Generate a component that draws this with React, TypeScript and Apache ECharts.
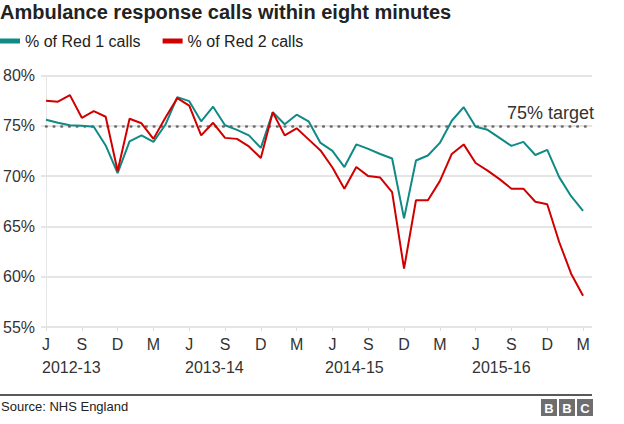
import React, { useEffect, useRef } from "react";
import * as echarts from "echarts";

const tickLabels = ["J", "S", "D", "M", "J", "S", "D", "M", "J", "S", "D", "M", "J", "S", "D", "M"];
const yearLabels = ["2012-13", "2013-14", "2014-15", "2015-16"];
const seriesNames = ["% of Red 1 calls", "% of Red 2 calls"];

const red1 = [
  75.6, 75.3, 75.05, 75.0, 74.9, 73.05, 70.3, 73.45, 74.05, 73.4, 75.1, 77.85,
  77.45, 75.45, 76.9, 75.05, 74.6, 74.05, 72.8, 76.35, 75.15, 76.1, 75.45, 73.3,
  72.5, 70.9, 73.15, 72.7, 72.2, 71.75, 65.8, 71.55, 72.05, 73.3, 75.5, 76.85,
  74.9, 74.6, 73.8, 73.0, 73.4, 72.1, 72.6, 69.9, 68.0, 66.55,
];
const red2 = [
  77.5, 77.4, 78.05, 75.8, 76.45, 75.9, 70.5, 75.7, 75.25, 73.7, 75.8, 77.75,
  77.0, 74.05, 75.3, 73.8, 73.7, 72.95, 71.8, 76.35, 74.05, 74.75, 73.65, 72.55,
  70.85, 68.75, 70.9, 70.0, 69.85, 68.4, 60.8, 67.6, 67.6, 69.5, 72.2, 73.15,
  71.3, 70.55, 69.7, 68.75, 68.75, 67.45, 67.2, 63.45, 60.3, 58.1,
];
const target = 75;
const targetLabel = "75% target";

const FONT = "'Liberation Sans', Arial, Helvetica, sans-serif";
const TEAL = "#0f8a84";
const RED = "#d00000";
const TEXT = "#333333";
const GRID = "#dddddd";

export default function App() {
  const ref = useRef<HTMLDivElement>(null);
  useEffect(() => {
    if (!ref.current) return;
    const chart = echarts.init(ref.current, undefined, { renderer: "svg" });
    const tickValues = tickLabels.map((_, i) => i * 3);
    const yearX = [42, 185, 325, 472];
    chart.setOption({
      animation: false,
      textStyle: { fontFamily: FONT },
      title: {
        text: "Ambulance response calls within eight minutes",
        left: 0,
        top: 2,
        padding: 0,
        textStyle: { fontSize: 20, fontWeight: "bold", color: "#222", fontFamily: FONT },
      },
      legend: {
        left: 0,
        top: 33,
        padding: 0,
        icon: "rect",
        itemWidth: 20,
        itemHeight: 5,
        itemGap: 22,
        textStyle: { fontSize: 16, color: "#222", fontFamily: FONT },
        data: seriesNames,
      },
      grid: { left: 42, right: 32, top: 75.5, bottom: 97, containLabel: false },
      xAxis: {
        type: "value",
        min: 0,
        max: 45.75,
        interval: 3,
        splitLine: { show: false },
        axisLine: { show: false },
        axisTick: {
          show: true,
          length: 4,
          customValues: tickValues,
          lineStyle: { color: GRID, width: 1 },
        },
        axisLabel: {
          customValues: tickValues,
          formatter: (v: number) => tickLabels[Math.round(v / 3)] ?? "",
          fontSize: 16,
          color: TEXT,
          margin: 9,
          fontFamily: FONT,
        },
      },
      yAxis: {
        type: "value",
        min: 55,
        max: 80,
        interval: 5,
        axisLine: { show: true, lineStyle: { color: "#e6e6e6", width: 1 } },
        axisTick: { show: true, length: 5, lineStyle: { color: GRID, width: 1.5 } },
        splitLine: { show: true, lineStyle: { color: GRID, width: 1.5 } },
        axisLabel: {
          formatter: "{value}%",
          fontSize: 16,
          color: TEXT,
          margin: 11,
          fontFamily: FONT,
        },
      },
      series: [
        {
          name: seriesNames[0],
          type: "line",
          data: red1.map((v, i) => [i, v]),
          symbol: "none",
          lineStyle: { color: TEAL, width: 2 },
          itemStyle: { color: TEAL },
          z: 3,
          markLine: {
            silent: true,
            symbol: "none",
            z: 1,
            lineStyle: { color: "#6a6a6a", width: 2.6, type: [0.6, 7.1], cap: "round" },
            label: {
              show: true,
              position: "insideEndTop",
              formatter: targetLabel,
              fontSize: 18,
              color: TEXT,
              fontFamily: FONT,
              distance: [-2, 4],
            },
            data: [{ yAxis: target }],
          },
        },
        {
          name: seriesNames[1],
          type: "line",
          data: red2.map((v, i) => [i, v]),
          symbol: "none",
          lineStyle: { color: RED, width: 2 },
          itemStyle: { color: RED },
          z: 4,
        },
      ],
      graphic: [
        ...yearLabels.map((t, i) => ({
          type: "text",
          left: yearX[i],
          top: 359,
          style: { text: t, fontSize: 16, fill: TEXT, fontFamily: FONT },
        })),
        {
          type: "line",
          shape: { x1: 0, y1: 395, x2: 592, y2: 395 },
          style: { stroke: "#222", lineWidth: 1.5 },
        },
        {
          type: "text",
          left: 1,
          top: 400,
          style: { text: "Source: NHS England", fontSize: 13, fill: "#222", fontFamily: FONT },
        },
        ...["B", "B", "C"].map((ch, i) => ({
          type: "group",
          left: 541 + i * 18,
          top: 399,
          children: [
            { type: "rect", shape: { x: 0, y: 0, width: 16, height: 17 }, style: { fill: "#6e6e6e" } },
            {
              type: "text",
              x: 8,
              y: 9,
              style: {
                text: ch,
                fontSize: 13,
                fontWeight: "bold",
                fill: "#fff",
                align: "center",
                verticalAlign: "middle",
                fontFamily: FONT,
              },
            },
          ],
        })),
      ],
    });
    return () => chart.dispose();
  }, []);
  return (
    <div
      ref={ref}
      style={{ position: "fixed", left: 0, top: 0, width: 624, height: 424, background: "#fff" }}
    />
  );
}
